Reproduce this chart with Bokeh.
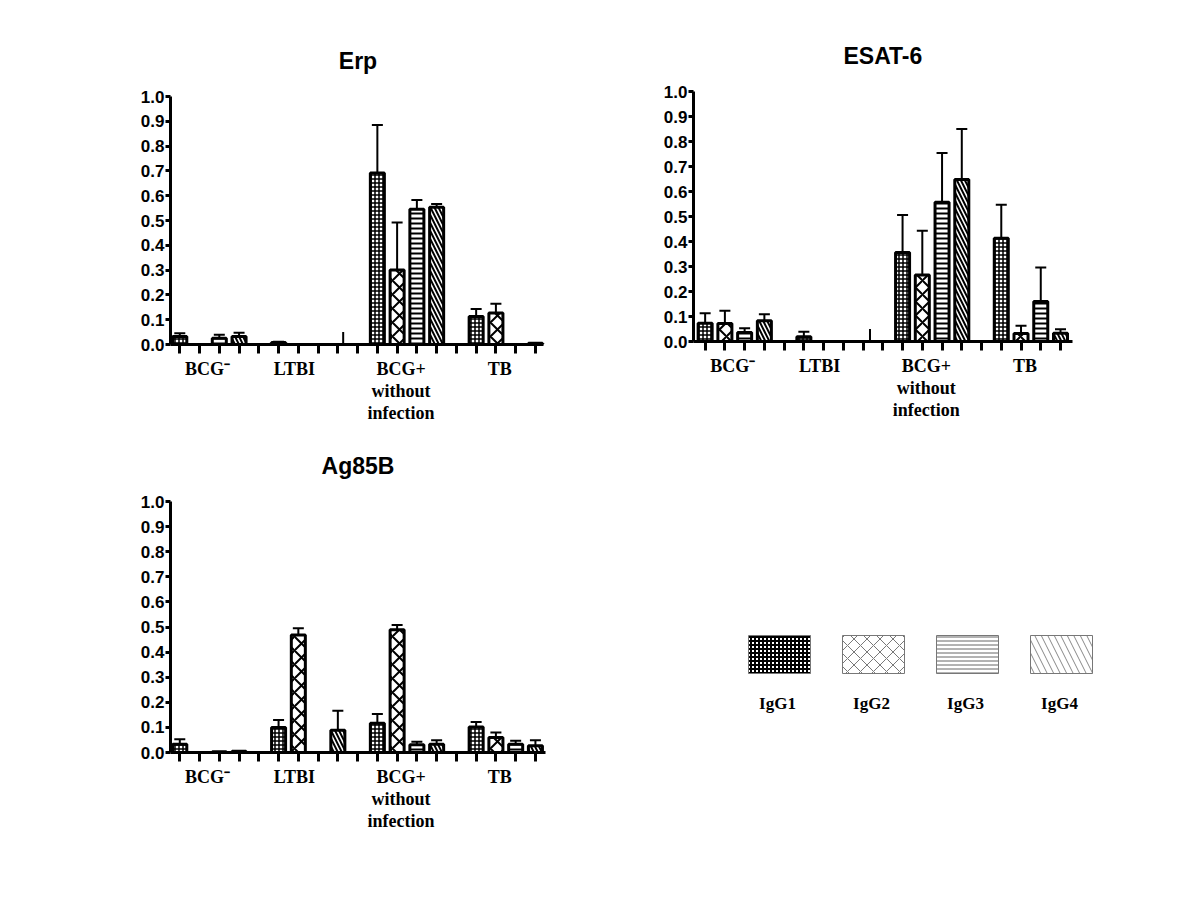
from bokeh.plotting import figure
from bokeh.models import Range1d, FixedTicker, Whisker, TeeHead, ColumnDataSource, Label, PrintfTickFormatter
from bokeh.layouts import row, column
from bokeh.embed import file_html
from bokeh.resources import INLINE

# ---------------- data ----------------
groups = ["BCG⁻", "LTBI", "BCG+\nwithout\ninfection", "TB"]
subclasses = ["IgG1", "IgG2", "IgG3", "IgG4"]
y_ticks = [0.0, 0.1, 0.2, 0.3, 0.4, 0.5, 0.6, 0.7, 0.8, 0.9, 1.0]

# mean per group (rows) and subclass (columns IgG1..IgG4)
erp_mean = [[0.032, 0.0, 0.025, 0.032],
            [0.008, 0.0, 0.0, 0.0],
            [0.692, 0.300, 0.545, 0.553],
            [0.113, 0.127, 0.0, 0.005]]
erp_sem = [[0.013, 0.0, 0.014, 0.015],
           [0.003, 0.0, 0.0, 0.0],
           [0.193, 0.192, 0.038, 0.014],
           [0.030, 0.037, 0.0, 0.0]]

esat_mean = [[0.073, 0.072, 0.036, 0.083],
             [0.019, 0.0, 0.0, 0.0],
             [0.356, 0.266, 0.557, 0.648],
             [0.413, 0.032, 0.160, 0.033]]
esat_sem = [[0.040, 0.051, 0.017, 0.026],
            [0.020, 0.0, 0.0, 0.0],
            [0.150, 0.177, 0.197, 0.202],
            [0.134, 0.031, 0.136, 0.016]]

ag_mean = [[0.033, 0.0, 0.003, 0.005],
           [0.100, 0.468, 0.0, 0.089],
           [0.117, 0.489, 0.031, 0.033],
           [0.102, 0.060, 0.033, 0.027]]
ag_sem = [[0.020, 0.0, 0.0, 0.0],
          [0.029, 0.027, 0.0, 0.077],
          [0.036, 0.019, 0.012, 0.016],
          [0.020, 0.020, 0.014, 0.022]]

# stray vertical marks visible on the original axes (x position in slots, height)
erp_stray = [(8.27, 0.05)]
esat_stray = [(8.35, 0.05)]
ag_stray = []

# ---------------- styles ----------------
SANS = "Liberation Sans"
SERIF = "Liberation Serif"
HATCH = {
    "IgG1": dict(hatch_pattern="+", hatch_scale=4, hatch_weight=1.5),
    "IgG2": dict(hatch_pattern="x", hatch_scale=14, hatch_weight=2),
    "IgG3": dict(hatch_pattern="-", hatch_scale=5, hatch_weight=2),
    "IgG4": dict(hatch_pattern="\\", hatch_scale=8, hatch_weight=2),
}
LEG_HATCH = {
    "IgG1": dict(hatch_pattern="+", hatch_scale=4, hatch_weight=2, hatch_color="black"),
    "IgG2": dict(hatch_pattern="x", hatch_scale=13, hatch_weight=1, hatch_color="#777777"),
    "IgG3": dict(hatch_pattern="-", hatch_scale=4, hatch_weight=1, hatch_color="#666666"),
    "IgG4": dict(hatch_pattern="\\", hatch_scale=13, hatch_weight=1, hatch_color="#888888"),
}
N_SLOTS = 19
SLOT_PER_GROUP = 5
LABEL_POS = [1.4, 5.8, 11.2, 16.2]


def panel(title, means, sems, stray, x_range, x_bounds, size, borders):
    left, right, top, bottom = borders
    p = figure(width=size[0], height=size[1], output_backend="svg", toolbar_location=None,
               x_range=Range1d(*x_range), y_range=Range1d(0, 1.0),
               min_border_left=left, min_border_right=right,
               min_border_top=top, min_border_bottom=bottom)
    p.outline_line_color = None
    p.xgrid.grid_line_color = None
    p.ygrid.grid_line_color = None
    p.background_fill_color = "white"
    p.border_fill_color = "white"

    p.title.text = title
    p.title.align = "center"
    p.title.text_font = SANS
    p.title.text_font_style = "bold"
    p.title.text_font_size = "23px"
    p.title.text_color = "black"
    p.title.standoff = 45

    for ax in (p.xaxis[0], p.yaxis[0]):
        ax.axis_line_width = 3
        ax.axis_line_color = "black"
        ax.major_tick_line_width = 3
        ax.major_tick_line_color = "black"
        ax.minor_tick_line_color = None
        ax.major_tick_in = 0

    # x axis: group labels on major ticks, slot ticks as minor ticks
    xa = p.xaxis[0]
    xa.bounds = x_bounds
    xa.ticker = FixedTicker(ticks=LABEL_POS, minor_ticks=list(range(N_SLOTS)))
    xa.major_label_overrides = {pos: lab for pos, lab in zip(LABEL_POS, groups)}
    xa.major_tick_line_color = None
    xa.major_tick_out = 0
    xa.major_label_standoff = 5
    xa.minor_tick_line_color = "black"
    xa.minor_tick_line_width = 3
    xa.minor_tick_out = 9
    xa.minor_tick_in = 0
    xa.major_label_text_font = SERIF
    xa.major_label_text_font_style = "bold"
    xa.major_label_text_font_size = "18px"
    xa.major_label_text_line_height = 1.12
    xa.major_label_text_color = "black"

    ya = p.yaxis[0]
    ya.ticker = FixedTicker(ticks=y_ticks)
    ya.formatter = PrintfTickFormatter(format="%.1f")
    ya.major_tick_out = 5
    ya.major_label_standoff = 1
    ya.major_label_text_font = SANS
    ya.major_label_text_font_style = "bold"
    ya.major_label_text_font_size = "17px"
    ya.major_label_text_color = "black"

    for j, sc in enumerate(subclasses):
        xs, tops = [], []
        exs, etops, eups = [], [], []
        for g in range(len(groups)):
            m = means[g][j]
            s = sems[g][j]
            x = g * SLOT_PER_GROUP + j
            if m > 0:
                xs.append(x)
                tops.append(m)
            if s > 0:
                exs.append(x)
                etops.append(m)
                eups.append(m + s)
        src = ColumnDataSource(dict(x=xs, top=tops))
        p.vbar(x="x", top="top", bottom=0, width=0.71, source=src,
               fill_color="white", line_color="black", line_width=3,
               hatch_color="black", **HATCH[sc])
        esrc = ColumnDataSource(dict(x=exs, lower=etops, upper=eups))
        w = Whisker(source=esrc, base="x", lower="lower", upper="upper",
                    dimension="height", line_width=2, line_color="black",
                    upper_head=TeeHead(size=11, line_width=2, line_color="black"),
                    lower_head=None)
        p.add_layout(w)

    if stray:
        p.segment(x0=[s[0] for s in stray], y0=[0] * len(stray),
                  x1=[s[0] for s in stray], y1=[s[1] for s in stray],
                  line_color="black", line_width=2)
    return p


# left column: width 600, frames from x=170 to 545
erp = panel("Erp", erp_mean, erp_sem, erp_stray, (-0.47, 18.51), (-0.47, 18.41),
            (600, 426), (170, 55, 96, 80))
ag = panel("Ag85B", ag_mean, ag_sem, ag_stray, (-0.47, 18.51), (-0.47, 18.51),
           (600, 464), (170, 55, 75, 138))
# right column: width 592, frame widened to the right so the legend fits
esat = panel("ESAT-6", esat_mean, esat_sem, esat_stray, (-0.59, 22.66), (-0.59, 18.61),
             (592, 450), (93, 40, 91, 109))
esat.title.align = "left"
esat.title.offset = 150

# ---------------- legend panel ----------------
LEG_X0, LEG_X1 = 693, 1152      # page pixels covered by the legend frame
LEG_Y0, LEG_Y1 = 450, 890
leg = figure(width=592, height=440, output_backend="svg", toolbar_location=None,
             x_range=Range1d(LEG_X0, LEG_X1), y_range=Range1d(LEG_Y1, LEG_Y0),
             x_axis_location=None, y_axis_location=None,
             min_border_left=93, min_border_right=40, min_border_top=0, min_border_bottom=0)
leg.xgrid.grid_line_color = None
leg.ygrid.grid_line_color = None
leg.outline_line_color = None
for i, sc in enumerate(subclasses):
    cx = 779 + 94 * i
    leg.rect(x=[cx], y=[654], width=62, height=38, fill_color="white",
             line_color="#777777", line_width=1, **LEG_HATCH[sc])
    leg.add_layout(Label(x=cx - 2, y=703, text=sc, text_align="center",
                         text_baseline="middle", text_font=SERIF,
                         text_font_style="bold", text_font_size="17px",
                         text_color="black"))

layout = row(column(erp, ag), column(esat, leg))
open("out.html", "w").write(file_html(layout, INLINE))
